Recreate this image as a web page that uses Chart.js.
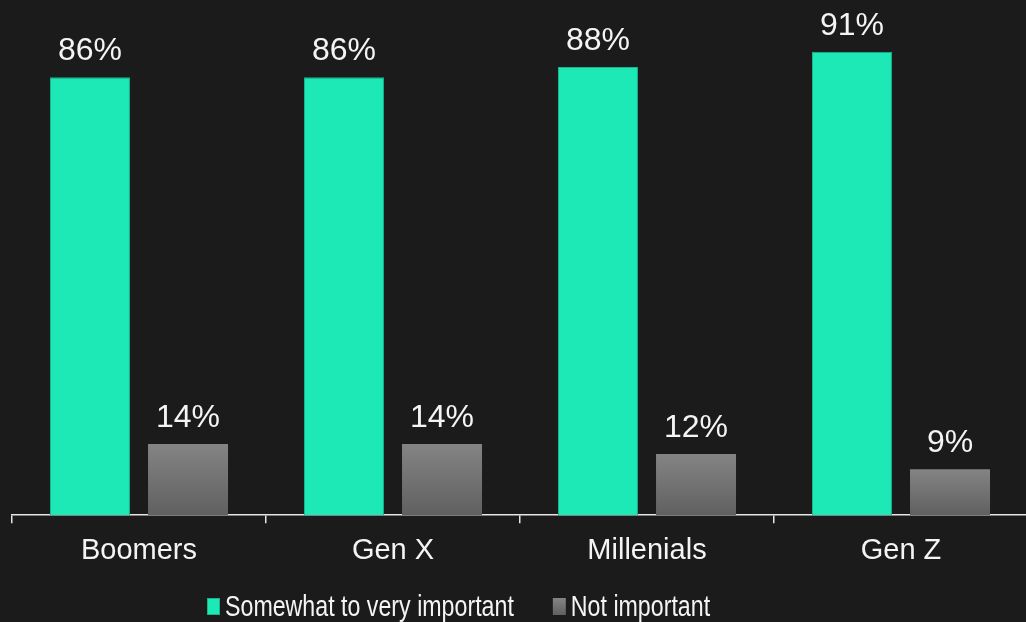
<!DOCTYPE html>
<html>
<head>
<meta charset="utf-8">
<script src="https://cdn.jsdelivr.net/npm/chart.js@4.4.0/dist/chart.umd.min.js"></script>
<style>
  html, body { margin: 0; padding: 0; background: #1b1b1b; overflow: hidden; }
  #wrap { position: relative; width: 1028px; height: 622px; }
</style>
</head>
<body>
<div id="wrap"><canvas id="genChart"></canvas></div>
<script>
const categories = ["Boomers", "Gen X", "Millenials", "Gen Z"];
const importantValues = [86, 86, 88, 91];
const notImportantValues = [14, 14, 12, 9];
const seriesLabels = ["Somewhat to very important", "Not important"];

const TEAL = "#1de9b6";
const TEAL_EDGE = "#18b48e";

function grayGradient(ctx, top, bottom) {
  const g = ctx.createLinearGradient(0, top, 0, bottom);
  g.addColorStop(0, "#848484");
  g.addColorStop(1, "#606060");
  return g;
}

// value labels above each bar
const valueLabels = {
  id: "valueLabels",
  afterDatasetsDraw(chart) {
    const ctx = chart.ctx;
    ctx.save();
    ctx.font = "32px 'Liberation Sans', Arial, sans-serif";
    ctx.fillStyle = "#f4f4f4";
    ctx.textAlign = "center";
    ctx.textBaseline = "alphabetic";
    chart.data.datasets.forEach((ds, i) => {
      chart.getDatasetMeta(i).data.forEach((bar, j) => {
        ctx.fillText(ds.data[j] + "%", bar.x, bar.y - 17);
      });
    });
    ctx.restore();
  }
};

// legend drawn by hand, text squeezed horizontally like a narrow face
const customLegend = {
  id: "customLegend",
  afterDraw(chart) {
    const ctx = chart.ctx;
    const squeeze = 0.8;
    ctx.save();
    ctx.font = "29px 'Liberation Sans', Arial, sans-serif";
    ctx.textBaseline = "alphabetic";
    let x = 207;
    const boxTop = 598, boxH = 17, boxW = 13, baseline = 616;
    chart.data.datasets.forEach((ds, i) => {
      ctx.fillStyle = i === 0 ? TEAL : grayGradient(ctx, boxTop, boxTop + boxH);
      ctx.fillRect(x, boxTop, boxW, boxH);
      if (i === 0) {
        ctx.strokeStyle = TEAL_EDGE;
        ctx.lineWidth = 1;
        ctx.strokeRect(x + 0.5, boxTop + 0.5, boxW - 1, boxH - 1);
      }
      x += boxW + 5;
      ctx.save();
      ctx.translate(x, baseline);
      ctx.scale(squeeze, 1);
      ctx.fillStyle = "#f4f4f4";
      ctx.fillText(ds.label, 0, 0);
      ctx.restore();
      x += ctx.measureText(ds.label).width * squeeze + 39;
    });
    ctx.restore();
  }
};

const ctx = document.getElementById("genChart").getContext("2d");
const genChart = new Chart(ctx, {
  type: "bar",
  data: {
    labels: categories,
    datasets: [
      {
        label: seriesLabels[0],
        data: importantValues,
        backgroundColor: TEAL,
        borderColor: TEAL_EDGE,
        borderWidth: 1,
        categoryPercentage: 0.772,
        barPercentage: 0.816,
      },
      {
        label: seriesLabels[1],
        data: notImportantValues,
        backgroundColor: function (context) {
          const chart = context.chart;
          if (!chart.chartArea || !chart.scales.y) return "#707070";
          const top = chart.scales.y.getPixelForValue(context.raw);
          const bottom = chart.scales.y.getPixelForValue(0);
          return grayGradient(chart.ctx, top, bottom);
        },
        borderWidth: 0,
        categoryPercentage: 0.772,
        barPercentage: 0.816,
      },
    ],
  },
  options: {
    responsive: true,
    maintainAspectRatio: false,
    animation: false,
    layout: {
      padding: { left: 12, right: 0, top: 6, bottom: 44 },
    },
    scales: {
      x: {
        offset: true,
        grid: {
          display: true,
          drawOnChartArea: false,
          drawTicks: true,
          tickLength: 8,
          color: "#e6e6e6",
          lineWidth: 1.5,
        },
        border: { display: true, color: "#e6e6e6", width: 1.5 },
        ticks: {
          color: "#f4f4f4",
          padding: 10,
          font: { family: "'Liberation Sans', Arial, sans-serif", size: 29 },
        },
      },
      y: {
        display: false,
        min: 0,
        max: 100,
      },
    },
    plugins: {
      legend: { display: false },
      tooltip: { enabled: false },
    },
  },
  plugins: [valueLabels, customLegend],
});
</script>
</body>
</html>
